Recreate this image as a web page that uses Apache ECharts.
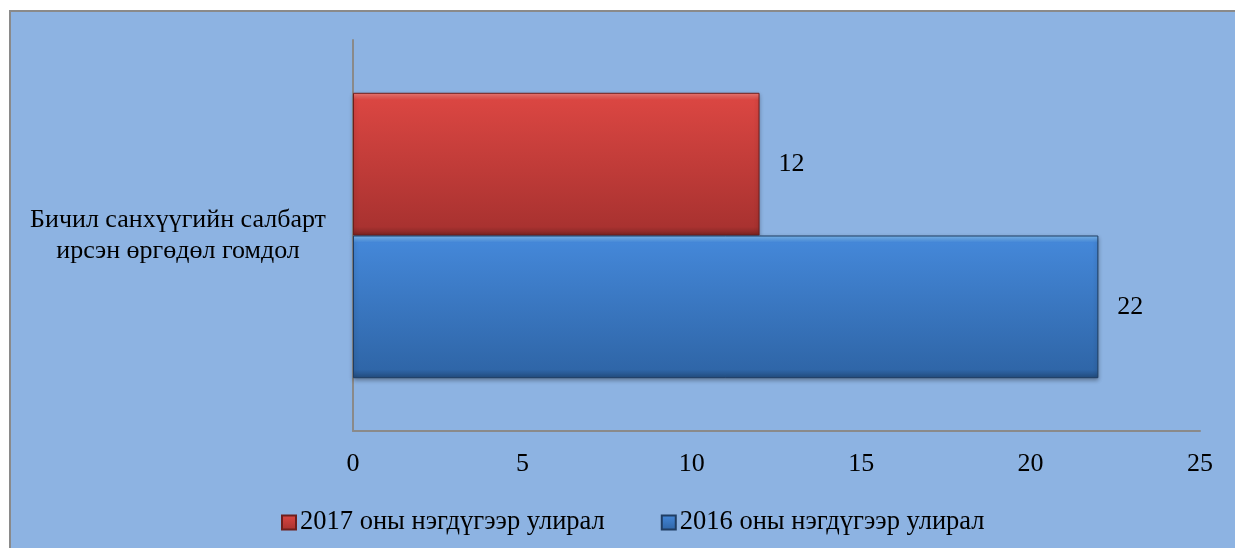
<!DOCTYPE html>
<html>
<head>
<meta charset="utf-8">
<script src="https://cdn.jsdelivr.net/npm/echarts@6/dist/echarts.min.js"></script>
<style>
html, body { margin: 0; padding: 0; background: #fff; }
#chart { width: 1235px; height: 548px; }
</style>
</head>
<body>
<div id="chart"></div>
<script>
'use strict';

var categories = ['Бичил санхүүгийн салбарт\nирсэн өргөдөл гомдол'];
var seriesNames = ['2017 оны нэгдүгээр улирал', '2016 оны нэгдүгээр улирал'];
var values2017 = [12];
var values2016 = [22];
var xTicks = [0, 5, 10, 15, 20, 25];

var font = '"Liberation Serif", "DejaVu Serif", serif';

// bevel-ish vertical gradient: bright rim on top, dark rim at the bottom
function bevel(rim, top, bottom, dark) {
	return new echarts.graphic.LinearGradient(0, 0, 0, 1, [
		{ offset: 0, color: rim },
		{ offset: 0.05, color: top },
		{ offset: 0.94, color: bottom },
		{ offset: 1, color: dark }
	]);
}

var chart = echarts.init(document.getElementById('chart'));
chart.setOption({
	backgroundColor : '#ffffff',
	animation : false,
	graphic : [{
		type : 'rect',
		z : -10,
		shape : { x : 10, y : 11, width : 1240, height : 560 },
		style : { fill : '#8db3e2', stroke : '#8a8a8a', lineWidth : 2 }
	}],
	grid : {
		left : 353,
		right : 35,
		top : 40,
		bottom : 117
	},
	legend : {
		top : 504,
		left : 276,
		itemWidth : 14,
		itemHeight : 14,
		itemGap : 56,
		icon : 'rect',
		textStyle : {
			fontFamily : font,
			fontSize : 26.5,
			color : '#000',
			padding : [0, 0, 0, -1]
		},
		data : seriesNames
	},
	xAxis : {
		type : 'value',
		min : xTicks[0],
		max : xTicks[xTicks.length - 1],
		interval : 5,
		axisLine : { show : true, lineStyle : { color : '#8a8a8a', width : 2 } },
		axisTick : { show : false },
		splitLine : { show : false },
		axisLabel : {
			margin : 20,
			fontFamily : font,
			fontSize : 26,
			color : '#000'
		}
	},
	yAxis : {
		type : 'category',
		inverse : true,
		data : categories,
		axisLine : { show : true, lineStyle : { color : '#8a8a8a', width : 2 } },
		axisTick : { show : false },
		axisLabel : {
			align : 'center',
			margin : 175,
			lineHeight : 31,
			fontFamily : font,
			fontSize : 26,
			color : '#000'
		}
	},
	series : [{
		name : seriesNames[0],
		type : 'bar',
		data : values2017,
		barGap : '0%',
		barCategoryGap : '27%',
		itemStyle : {
			color : bevel('#f27e79', '#da4642', '#a93230', '#7d2422'),
			borderColor : '#6e1e1c',
			borderWidth : 1,
			shadowColor : 'rgba(0,0,0,0.3)',
			shadowBlur : 4,
			shadowOffsetY : 2
		},
		label : {
			show : true,
			position : 'right',
			distance : 19,
			fontFamily : font,
			fontSize : 26,
			color : '#000'
		}
	}, {
		name : seriesNames[1],
		type : 'bar',
		data : values2016,
		barGap : '0%',
		barCategoryGap : '27%',
		itemStyle : {
			color : bevel('#7fbdf5', '#4487d8', '#2f66a8', '#224b7c'),
			borderColor : '#1f3d63',
			borderWidth : 1,
			shadowColor : 'rgba(0,0,0,0.3)',
			shadowBlur : 4,
			shadowOffsetY : 2
		},
		label : {
			show : true,
			position : 'right',
			distance : 19,
			fontFamily : font,
			fontSize : 26,
			color : '#000'
		}
	}]
});
</script>
</body>
</html>
